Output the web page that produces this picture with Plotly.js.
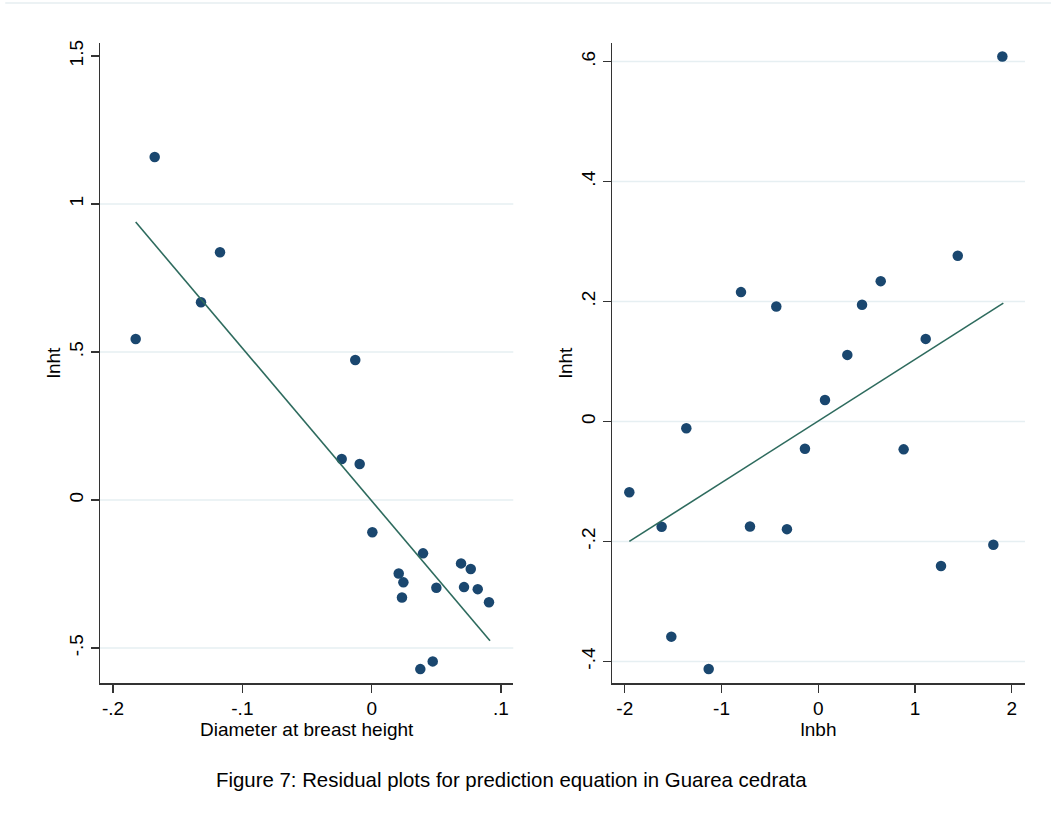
<!DOCTYPE html>
<html>
<head>
<meta charset="utf-8">
<script src="https://cdn.plot.ly/plotly-3.0.1.min.js"></script>
<style>html,body{margin:0;padding:0;background:#fff;}#chart{width:1051px;height:814px;}</style>
</head>
<body>
<div id="chart"></div>
<script>
// Left panel: residuals vs diameter at breast height
const dbhX = [-0.1678, -0.1825, -0.1173, -0.1320, -0.0127, -0.0232, -0.0093, 0.0005, 0.0397, 0.0691,
              0.0766, 0.0209, 0.0245, 0.0234, 0.0500, 0.0714, 0.0820, 0.0907, 0.0376, 0.0472];
const dbhY = [1.159, 0.544, 0.837, 0.668, 0.473, 0.1385, 0.1216, -0.109, -0.180, -0.214,
              -0.233, -0.248, -0.278, -0.329, -0.296, -0.294, -0.301, -0.345, -0.571, -0.545];
const dbhFitX = [-0.1825, 0.0915];
const dbhFitY = [0.939, -0.475];

// Right panel: residuals vs lnbh
const lnbhX = [1.902, -0.799, -0.434, 0.452, 0.645, 1.441, 1.110, 0.300, 0.069, -1.364,
               -0.138, 0.882, -1.953, -1.619, -0.706, -0.324, 1.809, 1.268, -1.519, -1.133];
const lnbhY = [0.6085, 0.2157, 0.1917, 0.1945, 0.234, 0.2763, 0.1377, 0.111, 0.0359, -0.0114,
               -0.0454, -0.0465, -0.118, -0.1756, -0.175, -0.1795, -0.2056, -0.241, -0.3587, -0.4126];
const lnbhFitX = [-1.953, 1.912];
const lnbhFitY = [-0.200, 0.1973];

// Tick labels
const leftXTicks = [-0.2, -0.1, 0, 0.1];
const leftXText = ["-.2", "-.1", "0", ".1"];
const leftYTicks = [-0.5, 0, 0.5, 1, 1.5];
const leftYText = ["-.5", "0", ".5", "1", "1.5"];
const leftGrid = [-0.5, 0, 0.5, 1];
const rightXTicks = [-2, -1, 0, 1, 2];
const rightXText = ["-2", "-1", "0", "1", "2"];
const rightYTicks = [-0.4, -0.2, 0, 0.2, 0.4, 0.6];
const rightYText = ["-.4", "-.2", "0", ".2", ".4", ".6"];
const rightGrid = [-0.4, -0.2, 0, 0.2, 0.4, 0.6];

const MARK = "#1a476f";
const LINE = "#2e6b5e";
const FONT = "Liberation Sans, Arial, sans-serif";

const traces = [
  {x: dbhX, y: dbhY, type: "scatter", mode: "markers", xaxis: "x", yaxis: "y",
   marker: {color: MARK, size: 10.5}, hoverinfo: "skip"},
  {x: dbhFitX, y: dbhFitY, type: "scatter", mode: "lines", xaxis: "x", yaxis: "y",
   line: {color: LINE, width: 1.6}, hoverinfo: "skip"},
  {x: lnbhX, y: lnbhY, type: "scatter", mode: "markers", xaxis: "x2", yaxis: "y2",
   marker: {color: MARK, size: 10.5}, hoverinfo: "skip"},
  {x: lnbhFitX, y: lnbhFitY, type: "scatter", mode: "lines", xaxis: "x2", yaxis: "y2",
   line: {color: LINE, width: 1.6}, hoverinfo: "skip"}
];

const W = 1051, H = 814;
const yDom = [1 - 683 / H, 1 - 43 / H];

function xAxis(dom, range, vals, text, title, anchor) {
  return {
    domain: dom, range: range, anchor: anchor,
    tickmode: "array", tickvals: vals, ticktext: text,
    showgrid: false, zeroline: false, showline: true, linecolor: "#333", linewidth: 1.5,
    ticks: "outside", ticklen: 8, tickwidth: 1.3, tickcolor: "#333",
    tickfont: {family: FONT, size: 19, color: "#000"},
    title: {text: title, font: {family: FONT, size: 19, color: "#000"}, standoff: 4}
  };
}
function yAxis(range, vals, text, anchor) {
  return {
    domain: yDom, range: range, anchor: anchor,
    tickmode: "array", tickvals: vals, ticktext: text, tickangle: -90,
    showgrid: false, zeroline: false, showline: true, linecolor: "#333", linewidth: 1.5,
    ticks: "outside", ticklen: 8, tickwidth: 1.3, tickcolor: "#333",
    tickfont: {family: FONT, size: 19, color: "#000"},
    title: {text: "lnht", font: {family: FONT, size: 19, color: "#000"}, standoff: 0}
  };
}

const shapes = [];
leftGrid.forEach(v => shapes.push({type: "line", xref: "x domain", yref: "y", x0: 0, x1: 1, y0: v, y1: v,
  line: {color: "#e6eff2", width: 1.5}, layer: "below"}));
rightGrid.forEach(v => shapes.push({type: "line", xref: "x2 domain", yref: "y2", x0: 0, x1: 1, y0: v, y1: v,
  line: {color: "#e6eff2", width: 1.5}, layer: "below"}));
shapes.push({type: "line", xref: "paper", yref: "paper", x0: 0.005, x1: 1, y0: 1 - 3 / H, y1: 1 - 3 / H,
  line: {color: "#e6eef0", width: 1.5}});

const layout = {
  width: W, height: H,
  margin: {l: 0, r: 0, t: 0, b: 0},
  paper_bgcolor: "#fff", plot_bgcolor: "#fff",
  showlegend: false,
  xaxis: xAxis([100 / W, 513.3 / W], [-0.2101, 0.1095], leftXTicks, leftXText, "Diameter at breast height", "y"),
  yaxis: yAxis([-0.618, 1.544], leftYTicks, leftYText, "x"),
  xaxis2: xAxis([612 / W, 1025 / W], [-2.132, 2.136], rightXTicks, rightXText, "lnbh", "y2"),
  yaxis2: yAxis([-0.436, 0.631], rightYTicks, rightYText, "x2"),
  shapes: shapes,
  annotations: [{
    text: "Figure 7: Residual plots for prediction equation in Guarea cedrata",
    xref: "paper", yref: "paper", x: 511.5 / W, y: 1 - 780 / H,
    xanchor: "center", yanchor: "middle", showarrow: false,
    font: {family: FONT, size: 20.4, color: "#000"}
  }]
};

Plotly.newPlot("chart", traces, layout, {displayModeBar: false, staticPlot: true});
</script>
</body>
</html>
